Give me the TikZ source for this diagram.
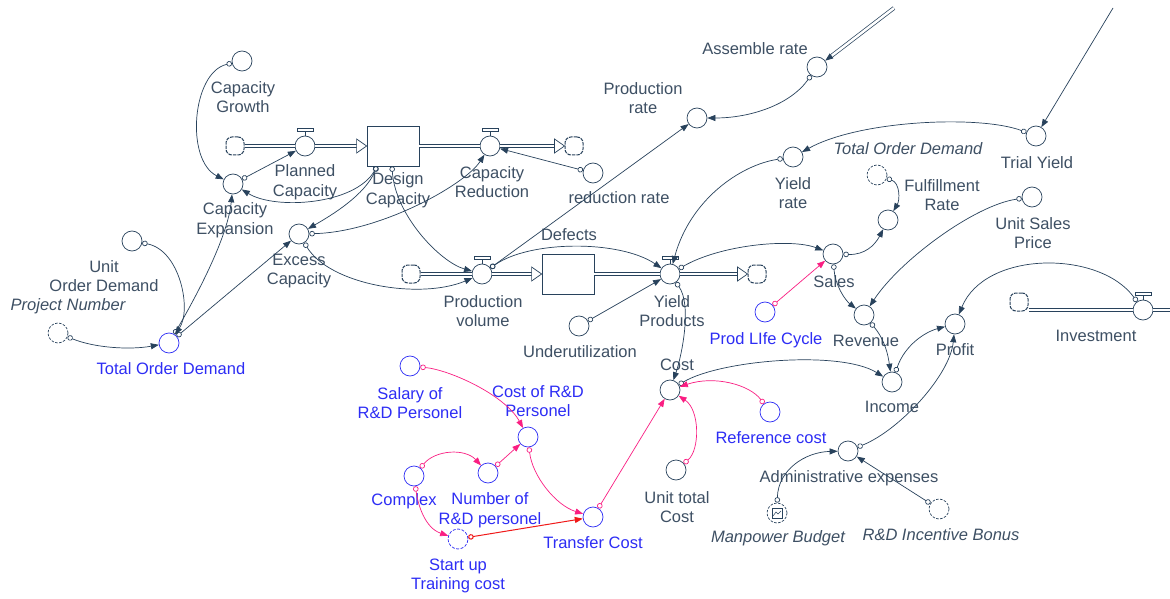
\documentclass[tikz,border=0pt]{standalone}
\usepackage{fontspec}
\setmainfont{Liberation Sans}
\usetikzlibrary{arrows.meta}
\definecolor{linec}{RGB}{40,66,92}
\definecolor{textc}{RGB}{62,80,100}
\definecolor{vblue}{RGB}{45,45,245}
\definecolor{vpink}{RGB}{250,30,130}
\definecolor{vred}{RGB}{240,25,25}
\tikzset{
  aux/.style={circle, draw=linec, line width=0.7pt, minimum size=20pt, inner sep=0pt, fill=white},
  auxb/.style={aux, draw=vblue},
  ghost/.style={aux, dash pattern=on 2.5pt off 1.5pt},
  ghostb/.style={aux, draw=vblue, dash pattern=on 3pt off 1.5pt},
  stockbox/.style={rectangle, draw=linec, line width=0.8pt, minimum width=52pt, minimum height=40pt, fill=white},
  cloudv/.style={rectangle, rounded corners=6pt, draw=linec, line width=1pt, dash pattern=on 3.5pt off 1pt, minimum size=18pt, inner sep=0pt, fill=white},
  pipe/.style={draw=linec, line width=0.7pt, double=white, double distance=2.4pt},
  pipetip/.style={draw=linec, line width=0.7pt, fill=white, line join=miter},
  vbar/.style={draw=linec, line width=0.7pt, fill=white},
  link/.style={draw=linec, line width=0.7pt, {Circle[open,length=5.5pt,width=5.5pt]}-{Triangle[length=8pt,width=6pt]}},
  linkp/.style={link, draw=vpink},
  linkr/.style={link, draw=vred, line width=1pt},
  feed/.style={draw=linec, line width=0.7pt, -{Triangle[length=8pt,width=6pt]}},
  lbl/.style={text=textc, align=center, inner sep=0pt, font=\fontsize{16.5}{19.5}\selectfont},
  lblb/.style={lbl, text=vblue},
  lbli/.style={lbl, font=\fontsize{16.5}{19.5}\selectfont\itshape},
}
\begin{document}
\begin{tikzpicture}[x=1pt,y=-1pt]
\fill[white] (0,0) rectangle (1170,599);
\useasboundingbox (0,0) rectangle (1170,599);

% ---- stocks, flows and clouds ----
\node[cloudv] (cs1) at (235,146) {};
\node[aux] (pc) at (305,146) {};
\node[stockbox] (dc) at (393,146) {};
\node[aux] (cr) at (490,146) {};
\node[cloudv] (cs2) at (574,146) {};

\node[cloudv] (cs3) at (411,274) {};
\node[aux] (pv) at (482,274) {};
\node[stockbox] (df) at (568,274) {};
\node[aux] (yp) at (670,274) {};
\node[cloudv] (cs4) at (757,274) {};

\node[cloudv] (cs5) at (1019,302) {};
\node[aux] (inv) at (1143,310) {};
\coordinate (invout) at (1172,310);

\draw[pipe] (cs1.east) -- (pc.west);
\draw[pipe] (pc.east) -- ([xshift=-10pt]dc.west);
\draw[pipetip] (dc.west) -- ++(-10,-7) -- ++(0,14) -- cycle;
\draw[pipe] (dc.east) -- (cr.west);
\draw[pipe] (cr.east) -- ([xshift=-10pt]cs2.west);
\draw[pipetip] (cs2.west) -- ++(-10,-7) -- ++(0,14) -- cycle;

\draw[pipe] (cs3.east) -- (pv.west);
\draw[pipe] (pv.east) -- ([xshift=-10pt]df.west);
\draw[pipetip] (df.west) -- ++(-10,-7) -- ++(0,14) -- cycle;
\draw[pipe] (df.east) -- (yp.west);
\draw[pipe] (yp.east) -- ([xshift=-10pt]cs4.west);
\draw[pipetip] (cs4.west) -- ++(-10,-7) -- ++(0,14) -- cycle;

\draw[pipe] (cs5.east |- inv) -- (inv.west);
\draw[pipe] (inv.east) -- (invout);

\foreach \v in {pc,cr,pv,yp,inv}
  \draw[vbar] (\v.north) -- ++(0,-4) ++(-8,0) rectangle ++(16,-3);

% ---- auxiliaries ----
\node[aux] (cg) at (242,61) {};
\node[aux] (ce) at (233,184) {};
\node[aux] (ec) at (299,234) {};
\node[aux] (uod) at (132,241) {};
\node[ghost] (pn) at (58,333) {};
\node[auxb] (tod) at (169,343) {};
\node[aux] (rr) at (593,173) {};
\node[aux] (prr) at (697,118) {};
\node[aux] (ar) at (817,67) {};
\node[aux] (ty) at (1036,136) {};
\node[aux] (yr) at (793,157) {};
\node[ghost] (fr) at (877,175) {};
\node[aux] (un) at (888,220) {};
\node[aux] (usp) at (1032,197) {};
\node[aux] (sa) at (833,254) {};
\node[aux] (rev) at (864,315) {};
\node[aux] (inc) at (892,382) {};
\node[aux] (pro) at (955,324) {};
\node[auxb] (plc) at (765,312) {};
\node[aux] (uu) at (579,326) {};
\node[aux] (co) at (670,390) {};
\node[auxb] (ref) at (770,412) {};
\node[aux] (utc) at (676,470) {};
\node[aux] (adm) at (848,451) {};
\node[ghost] (mb) at (777,513) {};
\node[ghost] (rib) at (939,509) {};
\node[auxb] (tc) at (593,517) {};
\node[ghostb] (su) at (458,539) {};
\node[auxb] (cx) at (414,476) {};
\node[auxb] (nrd) at (488,473) {};
\node[auxb] (crd) at (528,437) {};
\node[auxb] (sal) at (410,366) {};

% picture icon inside the budget shadow variable
\draw[linec, line width=0.5pt] ([shift={(-5,-5)}]mb.center) rectangle ([shift={(5,5)}]mb.center);
\draw[linec, line width=0.5pt] ([shift={(-4,3)}]mb.center) -- ([shift={(-1,-1)}]mb.center) -- ([shift={(1,1)}]mb.center) -- ([shift={(4,-2)}]mb.center);

% ---- labels ----
\node[lbl] at (243,97) {Capacity\\Growth};
\node[lbl] at (305,182) {Planned\\Capacity};
\node[lbl] at (398,190) {Design\\Capacity};
\node[lbl] at (235,220) {Capacity\\Expansion};
\node[lbl] at (492,182) {Capacity\\Reduction};
\node[lbl] at (619,198) {reduction rate};
\node[lbl] at (643,98) {Production\\rate};
\node[lbl] at (755,49) {Assemble rate};
\node[lbl] at (1037,163) {Trial Yield};
\node[lbl] at (793,193) {Yield\\rate};
\node[lbli] at (908,149) {Total Order Demand};
\node[lbl] at (942,195) {Fulfillment\\Rate};
\node[lbl] at (1033,233) {Unit Sales\\Price};
\node[lbl] at (834,282) {Sales};
\node[lbl] at (866,341) {Revenue};
\node[lbl] at (892,407) {Income};
\node[lbl] at (955,350) {Profit};
\node[lbl] at (1096,336) {Investment};
\node[lblb] at (766,340) {Prod LIfe Cycle};
\node[lbl] at (569,235) {Defects};
\node[lbl] at (483,311) {Production\\volume};
\node[lbl] at (672,311) {Yield\\Products};
\node[lbl] at (580,352) {Underutilization};
\node[lbl] at (677,365) {Cost};
\node[lblb] at (771,438) {Reference cost};
\node[lbl] at (677,507) {Unit total\\Cost};
\node[lbl] at (849,478) {Administrative expenses};
\node[lbli] at (778,538) {Manpower Budget};
\node[lbli] at (941,535) {R\&D Incentive Bonus};
\node[lblb] at (593,543) {Transfer Cost};
\node[lblb] at (458,576) {Start up\\Training cost};
\node[lblb] at (404,501) {Complex};
\node[lblb] at (490,510) {Number of\\R\&D personel};
\node[lblb] at (538,401) {Cost of R\&D\\Personel};
\node[lblb] at (410,403) {Salary of\\R\&D Personel};
\node[lbl] at (299,271) {Excess\\Capacity};
\node[lbl] at (104,276) {Unit\\Order Demand};
\node[lbli] at (68,306) {Project Number};
\node[lblb] at (171,369) {Total Order Demand};

% ---- causal links ----
\draw[link] (cg) .. controls (192,72) and (185,160) .. (ce);
\draw[link] (ce) -- (pc);
\draw[link] ([xshift=-16pt]dc.south) .. controls (355,205) and (275,210) .. (ce);
\draw[link] ([xshift=-16pt]dc.south) .. controls (365,195) and (332,215) .. (ec);
\draw[link] ([xshift=-1pt]dc.south) .. controls (395,215) and (440,262) .. (pv);
\draw[link] (ec) .. controls (380,232) and (465,185) .. (cr);
\draw[link] (ec) .. controls (330,285) and (420,300) .. (pv);
\draw[link] (tod) .. controls (200,290) and (228,235) .. (ce);
\draw[link] (tod) -- (ec);
\draw[link] (uod) .. controls (180,250) and (192,310) .. (tod);
\draw[link] (pn) .. controls (95,348) and (130,350) .. (tod);
\draw[link] (rr) -- (cr);
\draw[link] (pv) -- (prr);
\draw[link] (ar) .. controls (790,105) and (750,118) .. (prr);
\draw[link] (pv) .. controls (530,240) and (620,240) .. (yp);
\draw[link] (yr) .. controls (740,165) and (690,200) .. (yp);
\draw[link] (ty) .. controls (980,115) and (860,120) .. (yr);
\draw[link] (yp) .. controls (720,245) and (790,238) .. (sa);
\draw[link] (sa) .. controls (865,255) and (875,245) .. (un);
\draw[link] (fr) .. controls (900,183) and (900,200) .. (un);
\draw[linkp] (plc) -- (sa);
\draw[link] (sa) .. controls (835,285) and (845,300) .. (rev);
\draw[link] (usp) .. controls (975,205) and (900,260) .. (rev);
\draw[link] (rev) .. controls (885,340) and (888,355) .. (inc);
\draw[link] (inc) .. controls (905,345) and (925,332) .. (pro);
\draw[link] (inv) .. controls (1100,250) and (985,250) .. (pro);
\draw[link] (adm) .. controls (900,430) and (950,375) .. (pro);
\draw[link] (co) .. controls (720,360) and (840,350) .. (inc);
\draw[link] (yp) .. controls (692,305) and (682,355) .. (co);
\draw[linkp] (ref) .. controls (750,385) and (715,375) .. (co);
\draw[linkp] (utc) .. controls (700,450) and (700,410) .. (co);
\draw[linkp] (tc) -- (co);
\draw[linkp] (sal) .. controls (450,370) and (505,395) .. (crd);
\draw[linkp] (nrd) -- (crd);
\draw[linkp] (cx) .. controls (435,450) and (465,448) .. (nrd);
\draw[linkp] (cx) .. controls (418,505) and (425,528) .. (su);
\draw[linkp] (crd) .. controls (532,475) and (555,505) .. (tc);
\draw[linkr] (su) -- (tc);
\draw[link] (uu) -- (yp);
\draw[link] (mb) .. controls (778,470) and (805,452) .. (adm);
\draw[link] (rib) -- (adm);

% ---- incoming links from outside the view ----
\coordinate (tyin) at (1113,8);
\coordinate (arin) at (894,8);
\draw[feed] (tyin) -- (ty);
\draw[feed, double=white, double distance=2.5pt] (arin) -- (ar);
\end{tikzpicture}
\end{document}
